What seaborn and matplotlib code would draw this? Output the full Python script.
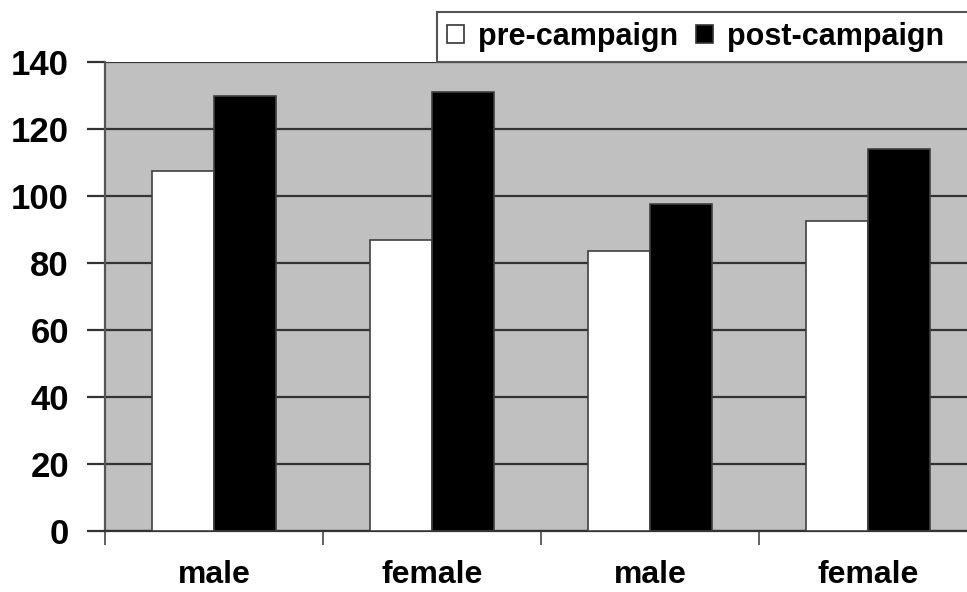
import matplotlib
matplotlib.use("Agg")
import matplotlib.pyplot as plt
import seaborn as sns
import pandas as pd
from matplotlib.patches import Patch, Rectangle
from matplotlib.ticker import FixedLocator

groups = ["g1", "g2", "g3", "g4"]
group_labels = ["male", "female", "male", "female"]
series = ["pre-campaign", "post-campaign"]
pre_values = [107.5, 87, 83.5, 92.5]
post_values = [130, 131, 97.5, 114]
yticks = [0, 20, 40, 60, 80, 100, 120, 140]

df = pd.DataFrame({
    "group": groups * 2,
    "series": [series[0]] * 4 + [series[1]] * 4,
    "value": pre_values + post_values,
})

sns.set_style("white")
plt.rcParams["font.family"] = ["Liberation Sans", "DejaVu Sans"]
plt.rcParams["font.weight"] = "bold"
plt.rcParams["text.color"] = "black"
plt.rcParams["xtick.labelcolor"] = "black"
plt.rcParams["ytick.labelcolor"] = "black"

fig = plt.figure(figsize=(9.67, 5.92), dpi=100)
ax = fig.add_axes([105 / 967, 61 / 592, 872 / 967, 469 / 592])
ax.set_facecolor("#c0c0c0")

sns.barplot(data=df, x="group", y="value", hue="series", order=groups,
            hue_order=series, palette={series[0]: "white", series[1]: "black"},
            width=0.57, edgecolor="#404040", linewidth=1.2, ax=ax, legend=False,
            zorder=3)

ax.set_xlim(-0.5, 3.5)
ax.set_ylim(0, 140)
ax.set_yticks(yticks)
ax.set_yticklabels([str(v) for v in yticks], fontsize=25, fontweight="bold", color="black")
ax.yaxis.grid(True, color="#333333", linewidth=1.6, zorder=0)
ax.set_axisbelow(True)
ax.set_xticks(range(len(groups)))
ax.set_xticklabels(group_labels, fontsize=23, fontweight="bold", color="black")
ax.xaxis.set_minor_locator(FixedLocator([-0.5, 0.5, 1.5, 2.5, 3.5]))
ax.tick_params(axis="x", which="major", length=0, pad=21)
ax.tick_params(axis="x", which="minor", length=10, width=1.3, color="#555555", bottom=True)
ax.tick_params(axis="y", length=13, width=1.6, color="#333333", pad=13, left=True)
ax.set_xlabel("")
ax.set_ylabel("")

for s in ["top", "right"]:
    ax.spines[s].set_visible(False)
ax.spines["left"].set_color("#555555")
ax.spines["left"].set_linewidth(1.6)
ax.spines["bottom"].set_color("#333333")
ax.spines["bottom"].set_linewidth(1.6)

handles = [Patch(facecolor="white", edgecolor="#333333", linewidth=1.2, label=series[0]),
           Patch(facecolor="black", edgecolor="#333333", linewidth=1.2, label=series[1])]
leg = fig.legend(handles=handles, loc="upper left", bbox_to_anchor=(437 / 967, 1 - 12 / 592),
                 ncol=2, frameon=False, prop={"size": 22, "weight": "bold"},
                 handlelength=0.55, handleheight=0.55, handletextpad=0.45, columnspacing=0.6,
                 borderpad=0.33, borderaxespad=0)

# Legend box that runs past the right edge, like the reference
fig.canvas.draw()
bb = leg.get_window_extent().transformed(fig.transFigure.inverted())
frame = Rectangle((bb.x0, bb.y0), 1.2 - bb.x0, bb.height, transform=fig.transFigure,
                  facecolor="white", edgecolor="#555555", linewidth=1.5, zorder=0.5)
fig.add_artist(frame)
leg.set_zorder(5)

fig.savefig("out.png", dpi=100)
